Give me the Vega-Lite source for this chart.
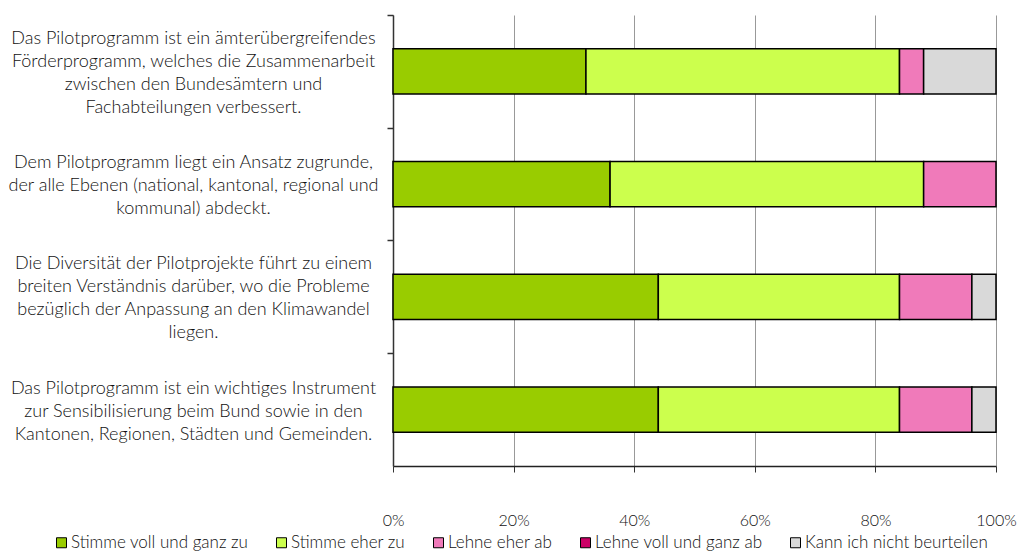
{
  "$schema": "https://vega.github.io/schema/vega-lite/v6.json",
  "width": 603,
  "height": 451,
  "autosize": {"type": "none"},
  "padding": {"left": 393, "top": 15, "right": 22, "bottom": 88},
  "background": "white",
  "config": {"font": "Lato", "view": {"stroke": null}},
  "data": {
    "values": [
      {"statement": "Das Pilotprogramm ist ein ämterübergreifendes|Förderprogramm, welches die Zusammenarbeit|zwischen den Bundesämtern und|Fachabteilungen verbessert.", "answer": "Stimme voll und ganz zu", "idx": 1, "pct": 32},
      {"statement": "Das Pilotprogramm ist ein ämterübergreifendes|Förderprogramm, welches die Zusammenarbeit|zwischen den Bundesämtern und|Fachabteilungen verbessert.", "answer": "Stimme eher zu", "idx": 2, "pct": 52},
      {"statement": "Das Pilotprogramm ist ein ämterübergreifendes|Förderprogramm, welches die Zusammenarbeit|zwischen den Bundesämtern und|Fachabteilungen verbessert.", "answer": "Lehne eher ab", "idx": 3, "pct": 4},
      {"statement": "Das Pilotprogramm ist ein ämterübergreifendes|Förderprogramm, welches die Zusammenarbeit|zwischen den Bundesämtern und|Fachabteilungen verbessert.", "answer": "Kann ich nicht beurteilen", "idx": 5, "pct": 12},
      {"statement": "Dem Pilotprogramm liegt ein Ansatz zugrunde,|der alle Ebenen (national, kantonal, regional und|kommunal) abdeckt.", "answer": "Stimme voll und ganz zu", "idx": 1, "pct": 36},
      {"statement": "Dem Pilotprogramm liegt ein Ansatz zugrunde,|der alle Ebenen (national, kantonal, regional und|kommunal) abdeckt.", "answer": "Stimme eher zu", "idx": 2, "pct": 52},
      {"statement": "Dem Pilotprogramm liegt ein Ansatz zugrunde,|der alle Ebenen (national, kantonal, regional und|kommunal) abdeckt.", "answer": "Lehne eher ab", "idx": 3, "pct": 12},
      {"statement": "Die Diversität der Pilotprojekte führt zu einem|breiten Verständnis darüber, wo die Probleme|bezüglich der Anpassung an den Klimawandel|liegen.", "answer": "Stimme voll und ganz zu", "idx": 1, "pct": 44},
      {"statement": "Die Diversität der Pilotprojekte führt zu einem|breiten Verständnis darüber, wo die Probleme|bezüglich der Anpassung an den Klimawandel|liegen.", "answer": "Stimme eher zu", "idx": 2, "pct": 40},
      {"statement": "Die Diversität der Pilotprojekte führt zu einem|breiten Verständnis darüber, wo die Probleme|bezüglich der Anpassung an den Klimawandel|liegen.", "answer": "Lehne eher ab", "idx": 3, "pct": 12},
      {"statement": "Die Diversität der Pilotprojekte führt zu einem|breiten Verständnis darüber, wo die Probleme|bezüglich der Anpassung an den Klimawandel|liegen.", "answer": "Kann ich nicht beurteilen", "idx": 5, "pct": 4},
      {"statement": "Das Pilotprogramm ist ein wichtiges Instrument|zur Sensibilisierung beim Bund sowie in den|Kantonen, Regionen, Städten und Gemeinden.", "answer": "Stimme voll und ganz zu", "idx": 1, "pct": 44},
      {"statement": "Das Pilotprogramm ist ein wichtiges Instrument|zur Sensibilisierung beim Bund sowie in den|Kantonen, Regionen, Städten und Gemeinden.", "answer": "Stimme eher zu", "idx": 2, "pct": 40},
      {"statement": "Das Pilotprogramm ist ein wichtiges Instrument|zur Sensibilisierung beim Bund sowie in den|Kantonen, Regionen, Städten und Gemeinden.", "answer": "Lehne eher ab", "idx": 3, "pct": 12},
      {"statement": "Das Pilotprogramm ist ein wichtiges Instrument|zur Sensibilisierung beim Bund sowie in den|Kantonen, Regionen, Städten und Gemeinden.", "answer": "Kann ich nicht beurteilen", "idx": 5, "pct": 4}
    ]
  },
  "mark": {"type": "bar", "stroke": "black", "strokeWidth": 1.5},
  "encoding": {
    "y": {
      "field": "statement",
      "type": "nominal",
      "sort": null,
      "scale": {"paddingInner": 0.6, "paddingOuter": 0.3},
      "axis": {
        "title": null,
        "domainColor": "#333333",
        "domainWidth": 1.5,
        "tickColor": "#333333",
        "tickWidth": 1.5,
        "tickSize": 6,
        "tickOffset": -56.4,
        "labelOffset": {
          "condition": {"test": "indexof(datum.value, 'abdeckt') >= 0 || indexof(datum.value, 'Gemeinden') >= 0", "value": 35},
          "value": 23.5
        },
        "labelAlign": "center",
        "labelBaseline": "middle",
        "labelPadding": 194,
        "labelLimit": 420,
        "labelFontSize": 18,
        "labelFontWeight": 300,
        "labelLineHeight": 23,
        "labelColor": "#111111",
        "labelExpr": "split(datum.label, '|')"
      }
    },
    "x": {
      "field": "pct",
      "type": "quantitative",
      "stack": "zero",
      "scale": {"domain": [0, 100]},
      "axis": {
        "title": null,
        "values": [0, 20, 40, 60, 80, 100],
        "labelExpr": "datum.value + '%'",
        "grid": true,
        "gridColor": "#999999",
        "gridWidth": 1,
        "domainColor": "#222222",
        "domainWidth": 1.5,
        "tickColor": "#333333",
        "tickSize": 6,
        "labelPadding": 40,
        "labelFontSize": 16,
        "labelFontWeight": 300,
        "labelColor": "#111111",
        "labelFlush": false
      }
    },
    "color": {
      "field": "answer",
      "type": "nominal",
      "scale": {
        "domain": ["Stimme voll und ganz zu", "Stimme eher zu", "Lehne eher ab", "Lehne voll und ganz ab", "Kann ich nicht beurteilen"],
        "range": ["#99CC00", "#CCFF4D", "#F07ABA", "#CC0066", "#D9D9D9"]
      },
      "legend": {
        "title": null,
        "orient": "none",
        "legendX": -340,
        "legendY": 519,
        "direction": "horizontal",
        "symbolType": "square",
        "symbolSize": 100,
        "symbolStrokeColor": "black",
        "symbolStrokeWidth": 1,
        "labelFontSize": 17,
        "labelFontWeight": 300,
        "labelColor": "#111111",
        "labelOffset": 1,
        "columnPadding": 24,
        "labelLimit": 300
      }
    },
    "order": {"field": "idx", "type": "quantitative"}
  }
}
